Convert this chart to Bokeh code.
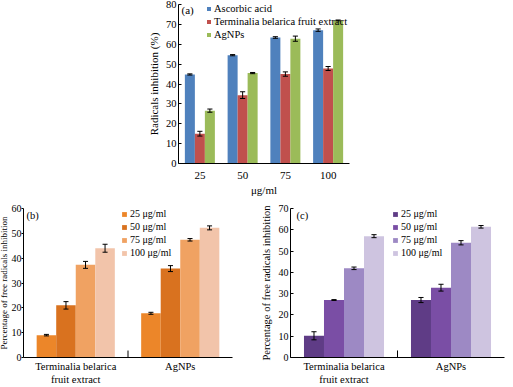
from bokeh.plotting import figure
from bokeh.models import (ColumnDataSource, FactorRange, Range1d, FixedTicker,
                          Legend, LegendItem, Label, Spacer)
from bokeh.layouts import row, column
from bokeh.transform import dodge
from bokeh.embed import file_html
from bokeh.resources import INLINE

FONT = "Liberation Serif"

# ---------------- data: panel (a) ----------------
conc_a = ["25", "50", "75", "100"]
series_a = ["Ascorbic acid", "Terminalia belarica fruit extract", "AgNPs"]
ascorbic = [44.8, 54.5, 63.4, 67.1]
ascorbic_err = [0.3, 0.3, 0.4, 0.6]
terminalia_a = [15.0, 34.4, 45.0, 47.8]
terminalia_a_err = [1.2, 1.7, 1.1, 1.0]
agnps_a = [26.6, 45.5, 62.8, 72.0]
agnps_a_err = [0.8, 0.3, 1.3, 0.2]
colors_a = ["#4F81BD", "#C0504D", "#9BBB59"]

# ---------------- data: panels (b) and (c) ----------------
samples = ["Terminalia belarica\nfruit extract", "AgNPs"]
doses = ["25 μg/ml", "50 μg/ml", "75 μg/ml", "100 μg/ml"]

b_25 = [9.0, 17.8]
b_25_err = [0.3, 0.4]
b_50 = [21.0, 35.8]
b_50_err = [1.5, 1.2]
b_75 = [37.3, 47.4]
b_75_err = [1.4, 0.5]
b_100 = [44.0, 52.2]
b_100_err = [1.6, 0.8]
colors_b = ["#EC8629", "#D9721F", "#F0A262", "#F2C4AA"]

c_25 = [10.2, 27.0]
c_25_err = [1.9, 1.2]
c_50 = [27.0, 32.8]
c_50_err = [0.2, 1.6]
c_75 = [41.9, 53.9]
c_75_err = [0.6, 1.0]
c_100 = [57.0, 61.4]
c_100_err = [0.7, 0.6]
colors_c = ["#5F3C86", "#7A4EA5", "#9D89C4", "#CEC4E0"]


def make_fig(x_range, y_end, fw, fh, bl, br, bt, bb):
    p = figure(x_range=x_range, y_range=Range1d(0, y_end),
               frame_width=fw, frame_height=fh,
               min_border_left=bl, min_border_right=br,
               min_border_top=bt, min_border_bottom=bb,
               output_backend="svg", toolbar_location=None, tools="")
    p.xgrid.visible = False
    p.ygrid.visible = False
    p.outline_line_color = None
    p.background_fill_color = "white"
    p.border_fill_color = "white"
    return p


def style_axes(p, ylabel, xlabel, tick_size, title_size, cat_size, yticks,
               tick_in, tick_out, label_standoff, ytitle_standoff, xlabel_standoff):
    ya = p.yaxis[0]
    ya.ticker = FixedTicker(ticks=yticks)
    ya.minor_tick_line_color = None
    ya.major_tick_in = tick_in
    ya.major_tick_out = tick_out
    ya.major_label_standoff = label_standoff
    ya.axis_label = ylabel
    ya.axis_label_standoff = ytitle_standoff
    ya.axis_label_text_font = FONT
    ya.axis_label_text_font_style = "normal"
    ya.axis_label_text_font_size = title_size
    ya.axis_label_text_color = "black"
    ya.major_label_text_font = FONT
    ya.major_label_text_font_size = tick_size
    ya.major_label_text_color = "black"
    ya.axis_line_color = "black"
    ya.major_tick_line_color = "black"

    xa = p.xaxis[0]
    xa.major_tick_line_color = None
    xa.major_tick_out = 0
    xa.major_tick_in = 0
    xa.minor_tick_line_color = None
    xa.major_label_standoff = xlabel_standoff
    xa.major_label_text_font = FONT
    xa.major_label_text_font_size = cat_size
    xa.major_label_text_color = "black"
    xa.axis_line_color = "black"
    if xlabel:
        xa.axis_label = xlabel
        xa.axis_label_standoff = 2
        xa.axis_label_text_font = FONT
        xa.axis_label_text_font_style = "normal"
        xa.axis_label_text_font_size = title_size
        xa.axis_label_text_color = "black"


def grouped(p, cats, values, errors, colors, names, width, cap):
    n = len(values)
    items = []
    for i, (vals, errs, col, name) in enumerate(zip(values, errors, colors, names)):
        off = (i - (n - 1) / 2) * width
        src = ColumnDataSource(dict(cat=cats, val=vals,
                                    up=[v + e for v, e in zip(vals, errs)],
                                    lo=[v - e for v, e in zip(vals, errs)]))
        r = p.vbar(x=dodge("cat", off, range=p.x_range), top="val", width=width,
                   source=src, fill_color=col, line_color=None)
        p.segment(x0=dodge("cat", off, range=p.x_range), x1=dodge("cat", off, range=p.x_range),
                  y0="lo", y1="up", source=src, line_color="black", line_width=1)
        for key in ("up", "lo"):
            p.segment(x0=dodge("cat", off - cap, range=p.x_range),
                      x1=dodge("cat", off + cap, range=p.x_range),
                      y0=key, y1=key, source=src, line_color="black", line_width=1)
        items.append(LegendItem(label=name, renderers=[r]))
    return items


def add_legend(p, items, loc, size, glyph):
    lg = Legend(items=items, location=loc, orientation="vertical",
                label_text_font=FONT, label_text_font_size=size,
                label_text_color="black", label_height=11, label_standoff=3,
                glyph_width=glyph, glyph_height=glyph, spacing=2,
                padding=0, margin=0, border_line_color=None,
                background_fill_alpha=0)
    p.add_layout(lg, "center")


def add_tag(p, text, x, y, size):
    p.add_layout(Label(x=x, y=y, x_units="screen", y_units="screen", text=text,
                       text_font=FONT, text_font_size=size, text_color="black",
                       text_baseline="middle"))


def separator(p, cat, height):
    src = ColumnDataSource(dict(cat=[cat], y0=[0], y1=[height]))
    p.segment(x0=dodge("cat", -0.5, range=p.x_range), x1=dodge("cat", -0.5, range=p.x_range),
              y0="y0", y1="y1", source=src, line_color="black", line_width=1)


# ---------------- panel (a) ----------------
pa = make_fig(FactorRange(factors=conc_a), 80, 171, 159, 46, 13, 12, 29)
style_axes(pa, "Radicals inhibition (%)", "μg/ml", "10.5px", "11px", "11px",
           list(range(0, 81, 10)), 3, 0, 2, 3, 8)
items_a = grouped(pa, conc_a, [ascorbic, terminalia_a, agnps_a],
                  [ascorbic_err, terminalia_a_err, agnps_a_err],
                  colors_a, series_a, 0.234, 0.06)
add_legend(pa, items_a, (28, 123), "10.5px", 5)
add_tag(pa, "(a)", 3, 154, "11px")

# ---------------- panel (b) ----------------
pb = make_fig(FactorRange(factors=samples), 60, 209, 149, 31, 15, 10, 28)
style_axes(pb, "Percentage of free radicals inhibition", None, "10px", "9px", "10.5px",
           list(range(0, 61, 10)), 0, 2, 0, 0, 3)
items_b = grouped(pb, samples, [b_25, b_50, b_75, b_100],
                  [b_25_err, b_50_err, b_75_err, b_100_err],
                  colors_b, doses, 0.187, 0.024)
separator(pb, "AgNPs", 2.8)
add_legend(pb, items_b, (98, 99), "10px", 6)
add_tag(pb, "(b)", 3, 142, "10.5px")

# ---------------- panel (c) ----------------
pc = make_fig(FactorRange(factors=samples), 70, 214, 149, 43, 1, 10, 28)
style_axes(pc, "Percentage of free radicals inhibition", None, "10px", "10.5px", "10.5px",
           list(range(0, 71, 10)), 3, 0, 2, 4, 3)
items_c = grouped(pc, samples, [c_25, c_50, c_75, c_100],
                  [c_25_err, c_50_err, c_75_err, c_100_err],
                  colors_c, doses, 0.187, 0.024)
separator(pc, "AgNPs", 3.3)
add_legend(pc, items_c, (102, 99), "10px", 6)
add_tag(pc, "(c)", 6, 142, "10.5px")

layout = column(row(Spacer(width=140, height=200), pa),
                row(pb, pc),
                styles={"margin-left": "-8px", "margin-top": "-8px"})

open("out.html", "w").write(file_html(layout, INLINE))
